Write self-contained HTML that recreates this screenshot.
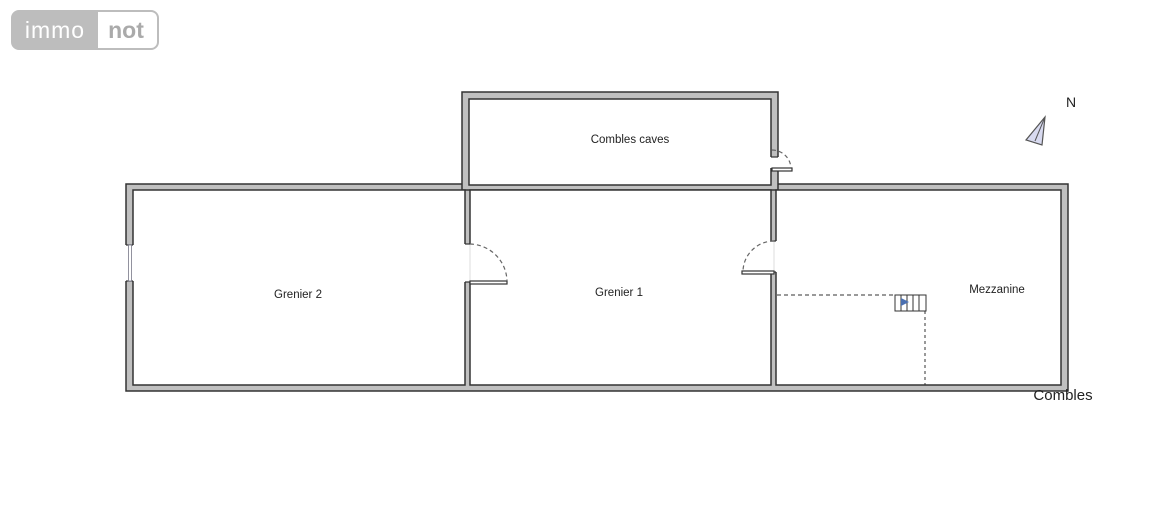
<!DOCTYPE html>
<html><head><meta charset="utf-8"><style>
html,body{margin:0;padding:0;background:#fff;width:1171px;height:506px;overflow:hidden}
svg{display:block}
text{font-family:"Liberation Sans",sans-serif;fill:#222}
</style></head><body>
<svg width="1171" height="506" viewBox="0 0 1171 506" xmlns="http://www.w3.org/2000/svg">
<!-- logo -->
<rect x="12" y="11" width="146" height="38" rx="7" fill="#fff" stroke="#bdbdbd" stroke-width="2"/>
<path d="M19 11 H98 V49 H19 A7 7 0 0 1 12 42 V18 A7 7 0 0 1 19 11 Z" fill="#bdbdbd"/>
<text x="55" y="38" font-size="23" text-anchor="middle" style="fill:#fff;letter-spacing:1px">immo</text>
<text x="126" y="38" font-size="23" font-weight="bold" text-anchor="middle" style="fill:#aaa">not</text>

<g stroke="#333" stroke-width="1.5">
<rect x="126" y="184" width="942" height="207" fill="#c0c0c0"/>
<rect x="462" y="92" width="316" height="98" fill="#c0c0c0"/>
<rect x="133" y="190" width="332" height="195" fill="#fff"/>
<rect x="470" y="190" width="301" height="195" fill="#fff"/>
<rect x="776" y="190" width="285" height="195" fill="#fff"/>
<rect x="469" y="99" width="302" height="86" fill="#fff"/>
</g>
<!-- openings -->
<rect x="464" y="244" width="7" height="38" fill="#fff"/>
<line x1="470" y1="244" x2="470" y2="282" stroke="#ddd" stroke-width="1"/>
<rect x="770" y="241" width="7" height="31" fill="#fff"/>
<line x1="774" y1="241" x2="774" y2="272" stroke="#ddd" stroke-width="1"/>
<rect x="770" y="157" width="9" height="11" fill="#fff"/>
<rect x="125" y="245" width="9" height="36" fill="#fff"/>
<g stroke="#333" stroke-width="1.2" fill="#fff">
<line x1="465" y1="244" x2="470" y2="244"/>
<line x1="465" y1="282" x2="470" y2="282"/>
<line x1="771" y1="241" x2="776" y2="241"/>
<line x1="771" y1="272" x2="776" y2="272"/>
<line x1="771" y1="157" x2="778" y2="157"/>
<line x1="126" y1="245" x2="133" y2="245"/>
<line x1="126" y1="281" x2="133" y2="281"/>
<rect x="470" y="281" width="37" height="3"/>
<rect x="742" y="271" width="32" height="3"/>
<rect x="772" y="168" width="20" height="3"/>
<rect x="128.5" y="245" width="3" height="36" stroke="#778" stroke-width="0.8"/>
</g>
<g fill="none" stroke="#666" stroke-width="1.2" stroke-dasharray="4,3">
<path d="M470 244 A38 38 0 0 1 507 281"/>
<path d="M774 241 A31 31 0 0 0 743 271"/>
<path d="M772 150 A19 19 0 0 1 791 168"/>
</g>
<!-- stairs -->
<g stroke="#333" stroke-width="1" fill="none">
<line x1="777" y1="295" x2="895" y2="295" stroke-dasharray="4,3"/>
<line x1="925" y1="311" x2="925" y2="385" stroke-dasharray="3,3"/>
<rect x="895" y="295" width="31" height="16" fill="#fff"/>
<line x1="901" y1="295" x2="901" y2="311"/>
<line x1="907" y1="295" x2="907" y2="311"/>
<line x1="913" y1="295" x2="913" y2="311"/>
<line x1="919" y1="295" x2="919" y2="311"/>
</g>
<polygon points="901,298 909,302 901,306" fill="#4a6fb0"/>
<!-- north -->
<polygon points="1045,117 1026,140 1042,145" fill="#d8daf0" stroke="#555" stroke-width="1.2"/>
<line x1="1045" y1="117" x2="1035" y2="141" stroke="#555" stroke-width="1"/>
<text x="1066" y="107" font-size="14">N</text>
<!-- labels -->
<text x="630" y="143" font-size="11.5" text-anchor="middle">Combles caves</text>
<text x="298" y="298" font-size="11.5" text-anchor="middle">Grenier 2</text>
<text x="619" y="296" font-size="11.5" text-anchor="middle">Grenier 1</text>
<text x="997" y="293" font-size="11.5" text-anchor="middle">Mezzanine</text>
<text x="1063" y="400" font-size="15" text-anchor="middle">Combles</text>
</svg>
</body></html>
